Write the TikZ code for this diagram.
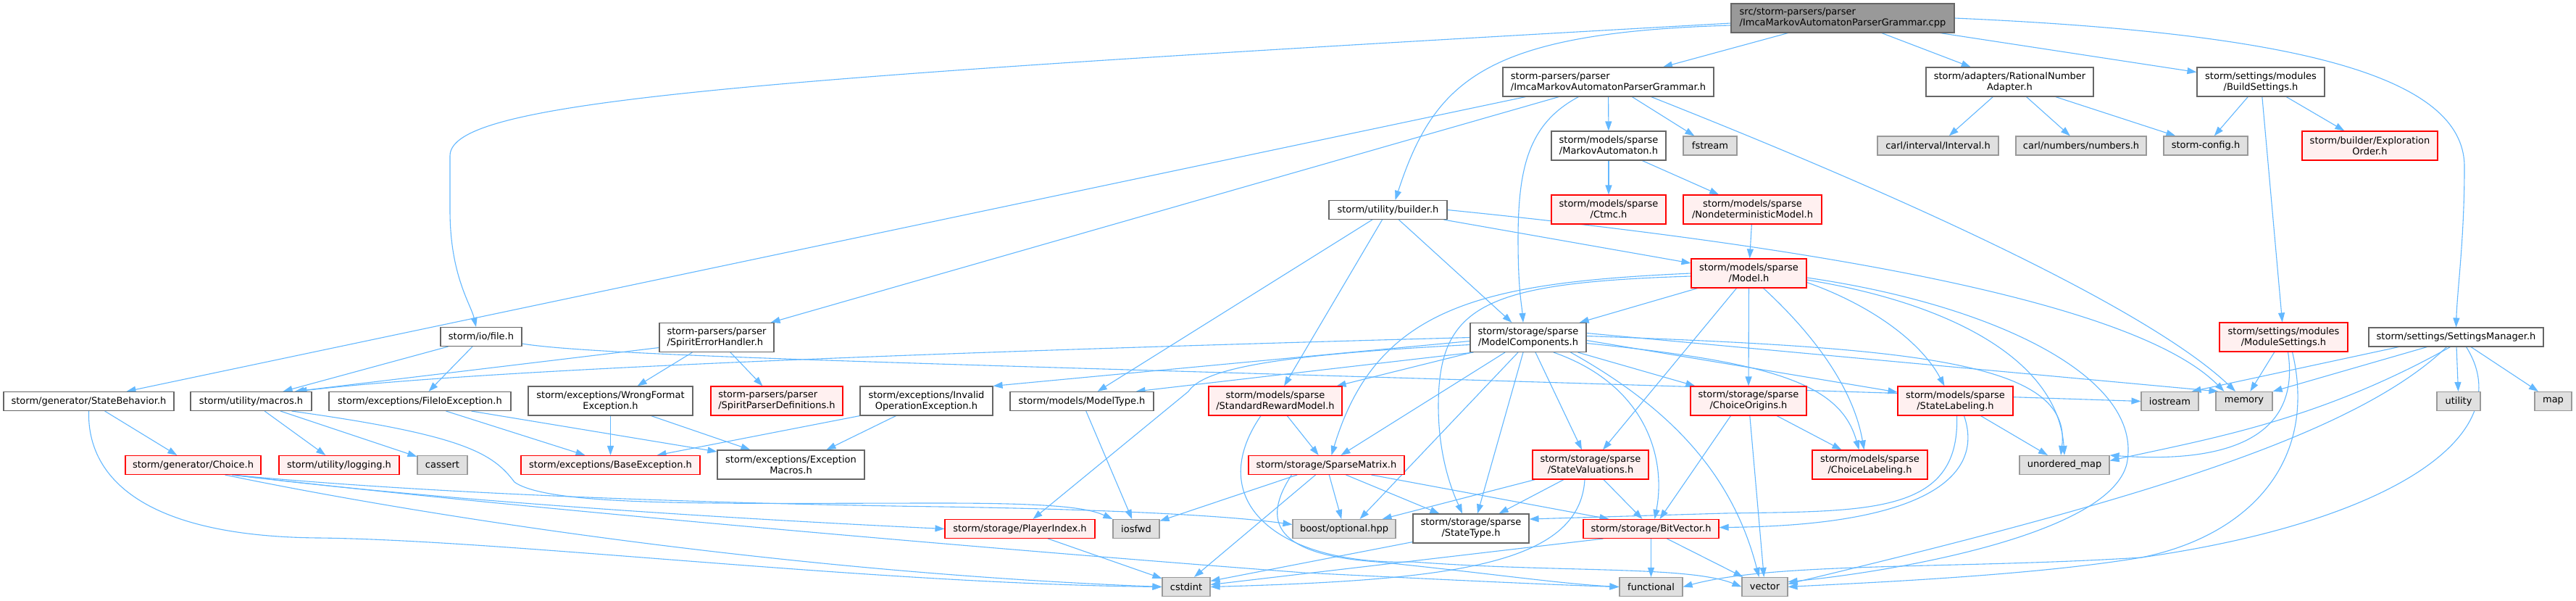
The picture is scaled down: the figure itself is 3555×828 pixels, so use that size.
\documentclass[tikz,border=0pt]{standalone}
\usepackage{fontspec}
\setmainfont{DejaVu Sans}
\usetikzlibrary{arrows.meta,calc}
\definecolor{edgeblue}{HTML}{63B8FF}
\definecolor{gfour}{HTML}{666666}
\definecolor{gsix}{HTML}{999999}
\definecolor{redfill}{HTML}{FFF0F0}
\definecolor{grayfill}{HTML}{E0E0E0}
\newcommand{\nodefont}{\fontsize{13}{15}\selectfont}
\pgfdeclarelayer{bglayer}
\pgfdeclarelayer{edgelayer}
\pgfsetlayers{bglayer,edgelayer,main}
\tikzset{
  nd/.style={draw=gfour, fill=white, line width=1.1pt, inner xsep=4pt, inner ysep=0pt, font=\nodefont, align=center},
  ndr/.style={nd, draw=red, fill=redfill},
  ndg/.style={nd, draw=gsix, fill=grayfill},
  ndroot/.style={nd, draw=gfour, fill=gsix},
  one/.style={minimum height=26pt},
  two/.style={minimum height=40pt},
  e/.style={draw=edgeblue, line width=1.1pt, -{Triangle[length=13pt,width=9pt]}},
}
\begin{document}
\begin{tikzpicture}[x=1pt,y=-1pt]
\begin{pgfonlayer}{bglayer}
\fill[white] (0,0) rectangle (3555,828);
\end{pgfonlayer}
\useasboundingbox (0,0) rectangle (3555,828);

% ---------- nodes ----------
\node[ndroot,two,align=left,minimum width=308pt] (R) at (2543,25) {src/storm-parsers/parser\\/ImcaMarkovAutomatonParserGrammar.cpp};
\node[nd,two,align=left,minimum width=291pt] (G) at (2219.5,113) {storm-parsers/parser\\/ImcaMarkovAutomatonParserGrammar.h};
\node[nd,two,minimum width=231pt] (RA) at (2773.5,113) {storm/adapters/RationalNumber\\Adapter.h};
\node[nd,two,minimum width=176pt] (BS) at (3120,113) {storm/settings/modules\\/BuildSettings.h};
\node[nd,two,minimum width=158pt] (MA) at (2220,201) {storm/models/sparse\\/MarkovAutomaton.h};
\node[ndg,one,minimum width=74pt] (FST) at (2360,201) {fstream};
\node[ndg,one,minimum width=167pt] (CI) at (2674.5,201) {carl/interval/Interval.h};
\node[ndg,one,minimum width=180pt] (CN) at (2872,201) {carl/numbers/numbers.h};
\node[ndg,one,minimum width=116pt] (SC) at (3044,201) {storm-config.h};
\node[ndr,two,minimum width=187pt] (EO) at (3270.5,201) {storm/builder/Exploration\\Order.h};
\node[ndr,two,minimum width=158pt] (CTMC) at (2220,289) {storm/models/sparse\\/Ctmc.h};
\node[ndr,two,minimum width=191pt] (ND) at (2418.5,289) {storm/models/sparse\\/NondeterministicModel.h};
\node[nd,one,minimum width=163pt] (B) at (1915.5,289.5) {storm/utility/builder.h};
\node[ndr,two,minimum width=159pt] (M) at (2413.5,377) {storm/models/sparse\\/Model.h};
\node[nd,one,minimum width=235pt] (SB) at (122.5,553.5) {storm/generator/StateBehavior.h};
\node[nd,one,minimum width=167pt] (MAC) at (346.5,553.5) {storm/utility/macros.h};
\node[nd,one,minimum width=251pt] (FIE) at (579.5,553.5) {storm/exceptions/FileIoException.h};
\node[ndr,one,minimum width=187pt] (CH) at (266.5,641.5) {storm/generator/Choice.h};
\node[ndr,one,minimum width=166pt] (LOG) at (468,641.5) {storm/utility/logging.h};
\node[ndg,one,minimum width=69pt] (CAS) at (610.5,641.5) {cassert};
\node[nd,one,minimum width=112pt] (IF) at (664,464.5) {storm/io/file.h};
\node[nd,two,align=left,minimum width=158pt] (SEH) at (989,465.5) {storm-parsers/parser\\/SpiritErrorHandler.h};
\node[nd,two,minimum width=227pt] (WFE) at (842.5,553) {storm/exceptions/WrongFormat\\Exception.h};
\node[ndr,two,align=left,minimum width=182pt] (SPD) at (1072,553) {storm-parsers/parser\\/SpiritParserDefinitions.h};
\node[ndr,one,minimum width=247pt] (BE) at (842.5,641.5) {storm/exceptions/BaseException.h};
\node[nd,two,minimum width=203pt] (EM) at (1091.5,641) {storm/exceptions/Exception\\Macros.h};
\node[nd,two,minimum width=183pt] (IOE) at (1278.5,553) {storm/exceptions/Invalid\\OperationException.h};
\node[nd,one,minimum width=198pt] (MT) at (1493,553.5) {storm/models/ModelType.h};
\node[ndr,two,minimum width=184pt] (SRM) at (1760,553) {storm/models/sparse\\/StandardRewardModel.h};
\node[ndr,one,minimum width=215pt] (SPM) at (1830.5,641.5) {storm/storage/SparseMatrix.h};
\node[ndr,one,minimum width=207pt] (PI) at (1407.5,729.5) {storm/storage/PlayerIndex.h};
\node[ndg,one,minimum width=64pt] (IOSFWD) at (1568,729.5) {iosfwd};
\node[ndg,one,minimum width=142pt] (BOOST) at (1855,729.5) {boost/optional.hpp};
\node[ndg,one,minimum width=66pt] (CSTDINT) at (1637,809.5) {cstdint};
\node[nd,two,minimum width=160pt] (MC) at (2109,465.5) {storm/storage/sparse\\/ModelComponents.h};
\node[ndr,two,minimum width=160pt] (SV) at (2195,641) {storm/storage/sparse\\/StateValuations.h};
\node[nd,two,minimum width=160pt] (ST) at (2030,729) {storm/storage/sparse\\/StateType.h};
\node[ndr,one,minimum width=187pt] (BV) at (2278.5,729.5) {storm/storage/BitVector.h};
\node[ndg,one,minimum width=87pt] (FUN) at (2278.5,809.5) {functional};
\node[ndr,two,minimum width=160pt] (CO) at (2413,553) {storm/storage/sparse\\/ChoiceOrigins.h};
\node[ndr,two,minimum width=159pt] (CL) at (2580.5,641) {storm/models/sparse\\/ChoiceLabeling.h};
\node[ndr,two,minimum width=159pt] (SL) at (2698.5,553) {storm/models/sparse\\/StateLabeling.h};
\node[ndg,one,minimum width=124pt] (UM) at (2849,641.5) {unordered\_map};
\node[ndg,one,minimum width=79pt] (IOS) at (2994.5,553.5) {iostream};
\node[ndg,one,minimum width=63pt] (VEC) at (2435.5,809.5) {vector};
\node[ndg,one,minimum width=78pt] (MEM) at (3097,553.5) {memory};
\node[ndr,two,minimum width=177pt] (MS) at (3151.5,465) {storm/settings/modules\\/ModuleSettings.h};
\node[nd,one,minimum width=241pt] (SM) at (3389.5,465) {storm/settings/SettingsManager.h};
\node[ndg,one,minimum width=60pt] (UT) at (3393,553.5) {utility};
\node[ndg,one,minimum width=51pt] (MAP) at (3523.5,553.5) {map};

% ---------- edges ----------
\begin{pgfonlayer}{edgelayer}
% root
\draw[e] ($(R.west)+(0,7)$) .. controls (1000,110) and (621,140) .. (621,215) -- (621,290) .. controls (621,380) and (650,420) .. ($(IF.north)+(-7,0)$);
\draw[e] ($(R.west)+(0,10)$) .. controls (2050,45) and (1980,110) .. ($(B.north)+(10,0)$);
\draw[e] (R) -- (G);
\draw[e] (R) -- (RA);
\draw[e] (R) -- (BS);
\draw[e] (R.east) .. controls (3150,45) and (3401,100) .. (3401,230) .. controls (3401,330) and (3391,400) .. (SM.north);
% grammar
\draw[e] ($(G.south west)+(32,0)$) -- ($(SB.north)+(52,0)$);
\draw[e] ($(G.south west)+(78,0)$) -- ($(SEH.north east)+(-5,0)$);
\draw[e] ($(G.south)+(-41,0)$) .. controls (2110,170) and (2095,230) .. (2095,330) .. controls (2095,400) and (2100,420) .. ($(MC.north)+(-7,0)$);
\draw[e] (G) -- (MA);
\draw[e] (G) -- (FST);
\draw[e] ($(G.south east)+(-87,0)$) .. controls (2700,300) and (2980,440) .. ($(MEM.north)+(-12,0)$);
% markov automaton
\draw[e] (MA) -- (CTMC);
\draw[e] (MA) -- (ND);
\draw[e] (ND) -- (M);
% rational number adapter
\draw[e] (RA) -- (CI);
\draw[e] (RA) -- (CN);
\draw[e] (RA) -- (SC);
% build settings
\draw[e] (BS) -- (SC);
\draw[e] (BS) -- (EO);
\draw[e] (BS) -- (MS);
% module settings
\draw[e] (MS) -- (MEM);
\draw[e] ($(MS.south)+(6,0)$) .. controls (3175,600) and (3080,640) .. (UM.north east);
\draw[e] ($(MS.south)+(12,0)$) .. controls (3200,640) and (3100,740) .. (2955,769) .. controls (2800,795) and (2550,805) .. (VEC.east);
% settings manager
\draw[e] ($(SM.south west)+(42,0)$) -- ($(IOS.north east)+(-10,0)$);
\draw[e] ($(SM.south)+(-40,0)$) -- (MEM.north east);
\draw[e] (SM) -- (UT);
\draw[e] (SM) -- (MAP);
\draw[e] ($(SM.south)+(-8,0)$) .. controls (3200,580) and (3050,605) .. ($(UM.east)+(0,-6)$);
\draw[e] ($(SM.south)+(-13,0)$) .. controls (3250,600) and (2950,690) .. ($(VEC.east)+(0,-4)$);
\draw[e] ($(SM.south)+(14,0)$) .. controls (3480,600) and (3300,720) .. (2955,769) .. controls (2700,785) and (2450,775) .. (FUN.east);
% builder
\draw[e] (B.east) .. controls (2600,350) and (2960,430) .. ($(MEM.north west)+(12,0)$);
\draw[e] (B) -- (M);
\draw[e] (B) -- (MT);
\draw[e] (B) -- (SRM);
\draw[e] (B) -- (MC);
% model
\draw[e] (M) -- (MC);
\draw[e] (M.west) .. controls (2050,390) and (1900,420) .. ($(SPM.north)+(7,0)$);
\draw[e] ($(M.west)+(0,4)$) .. controls (2050,390) and (1985,420) .. (1985,560) .. controls (1985,640) and (2010,690) .. ($(ST.north)+(-12,0)$);
\draw[e] (M) -- (SV);
\draw[e] (M) -- (CO);
\draw[e] ($(M.south)+(20,0)$) .. controls (2480,440) and (2555,520) .. ($(CL.north)+(-8,0)$);
\draw[e] ($(M.south east)+(0,-8)$) .. controls (2580,420) and (2650,470) .. ($(SL.north)+(-15,0)$);
\draw[e] ($(M.east)+(0,9)$) .. controls (2700,420) and (2840,500) .. (UM.north);
\draw[e] ($(M.east)+(0,6)$) .. controls (2750,420) and (2960,520) .. (2935,640) .. controls (2910,740) and (2600,790) .. ($(VEC.east)+(0,-7)$);
% model components
\draw[e] (MC.west) .. controls (1500,480) and (700,505) .. ($(MAC.north east)+(-20,0)$);
\draw[e] ($(MC.west)+(0,5)$) -- (IOE.north east);
\draw[e] ($(MC.south west)+(5,0)$) -- ($(MT.north east)+(-25,0)$);
\draw[e] ($(MC.south west)+(3,0)$) -- ($(SRM.north east)+(-8,0)$);
\draw[e] ($(MC.south)+(-32,0)$) -- ($(SPM.north)+(20,0)$);
\draw[e] ($(MC.west)+(0,10)$) .. controls (1750,490) and (1660,510) .. (1640,540) -- ($(PI.north)+(18,0)$);
\draw[e] ($(MC.south)+(-14,0)$) -- ($(BOOST.north east)+(-50,0)$);
\draw[e] ($(MC.south)+(-7,0)$) -- ($(ST.north)+(9,0)$);
\draw[e] ($(MC.south)+(10,0)$) -- ($(SV.north)+(-12,0)$);
\draw[e] ($(MC.south)+(35,0)$) .. controls (2270,530) and (2300,630) .. ($(BV.north)+(5,0)$);
\draw[e] ($(MC.south east)+(-12,0)$) -- ($(CO.north west)+(7,0)$);
\draw[e] ($(MC.east)+(0,8)$) .. controls (2450,500) and (2540,530) .. ($(CL.north)+(-15,0)$);
\draw[e] ($(MC.east)+(0,4)$) -- ($(SL.west)+(0,-12)$);
\draw[e] ($(MC.east)+(0,-2)$) .. controls (2650,480) and (2860,500) .. ($(UM.north)+(-5,0)$);
\draw[e] ($(MC.east)+(0,-6)$) -- ($(MEM.north west)+(4,0)$);
\draw[e] ($(MC.south east)+(-22,0)$) .. controls (2300,560) and (2390,650) .. ($(VEC.north)+(-8,0)$);
% io/file
\draw[e] ($(IF.south east)+(0,-4)$) .. controls (850,495) and (1500,505) .. (IOS.west);
\draw[e] ($(IF.south west)+(11,0)$) -- ($(MAC.north east)+(-40,0)$);
\draw[e] ($(IF.south)+(-12,0)$) -- ($(FIE.north east)+(-114,0)$);
% standard reward model
\draw[e] (SRM) -- (SPM);
\draw[e] ($(SRM.south)+(-20,0)$) .. controls (1660,690) and (1760,780) .. (1950,775) .. controls (2150,790) and (2330,780) .. (VEC.west);
% sparse matrix
\draw[e] (SPM) -- (IOSFWD);
\draw[e] ($(SPM.south)+(-15,0)$) -- ($(CSTDINT.north)+(11,0)$);
\draw[e] (SPM) -- (BOOST);
\draw[e] ($(SPM.south)+(27,0)$) -- ($(ST.north west)+(37,0)$);
\draw[e] ($(SPM.south east)+(-46,0)$) -- ($(BV.north west)+(36,0)$);
\draw[e] ($(SPM.south west)+(60,0)$) .. controls (1740,720) and (1760,765) .. (1900,775) .. controls (2050,790) and (2150,805) .. (FUN.west);
% state valuations
\draw[e] ($(SV.south west)+(4,0)$) -- ($(BOOST.north east)+(-19,0)$);
\draw[e] ($(SV.south)+(-37,0)$) -- ($(ST.north east)+(-42,0)$);
\draw[e] ($(SV.south)+(18,0)$) -- ($(BV.north)+(-12,0)$);
\draw[e] ($(SV.south)+(-8,0)$) .. controls (2180,780) and (2000,800) .. (CSTDINT.east);
% state type
\draw[e] ($(ST.south west)+(0,-2)$) -- ($(CSTDINT.east)+(0,-8)$);
% bit vector
\draw[e] (BV) -- (FUN);
\draw[e] ($(BV.south)+(22,0)$) -- ($(VEC.north west)+(2,0)$);
\draw[e] ($(BV.south west)+(28,0)$) -- ($(CSTDINT.east)+(0,-3)$);
% choice origins
\draw[e] (CO) -- (CL);
\draw[e] ($(CO.south west)+(56,0)$) -- ($(BV.north)+(12,0)$);
\draw[e] (CO) -- (VEC);
% state labeling
\draw[e] (SL) -- (UM);
\draw[e] ($(SL.south)+(12,0)$) .. controls (2740,660) and (2650,725) .. ($(BV.east)+(0,-2)$);
\draw[e] ($(SL.south)+(2,0)$) .. controls (2705,710) and (2580,705) .. (2380,708) -- ($(ST.east)+(0,-13)$);
% small ones
\draw[e] (PI) -- (CSTDINT);
\draw[e] (MT) -- (IOSFWD);
\draw[e] (IOE.south west) -- ($(BE.north east)+(-60,0)$);
\draw[e] ($(IOE.south)+(-42,0)$) -- ($(EM.north)+(49,0)$);
\draw[e] (WFE) -- (BE);
\draw[e] ($(WFE.south)+(56,0)$) -- ($(EM.north west)+(46,0)$);
\draw[e] ($(SEH.south west)+(46,0)$) -- ($(WFE.north east)+(-77,0)$);
\draw[e] ($(SEH.south)+(19,0)$) -- ($(SPD.north west)+(72,0)$);
\draw[e] ($(SEH.west)+(0,14)$) -- ($(MAC.north east)+(-24,0)$);
\draw[e] ($(FIE.south east)+(-90,0)$) -- ($(BE.north)+(-35,0)$);
\draw[e] ($(FIE.south east)+(-55,0)$) -- ($(EM.west)+(0,-18)$);
% macros
\draw[e] (MAC) -- (LOG);
\draw[e] (MAC) -- (CAS);
\draw[e] ($(MAC.south east)+(-28,0)$) .. controls (640,600) and (680,625) .. (710,665) .. controls (760,700) and (1000,694) .. (1300,694) .. controls (1450,694) and (1500,700) .. (IOSFWD.north west);
% state behavior
\draw[e] (SB) -- (CH);
\draw[e] (SB.south) .. controls (120,660) and (200,740) .. (440,742) .. controls (700,745) and (1200,805) .. (CSTDINT.west);
% choice
\draw[e] ($(CH.south east)+(-40,0)$) .. controls (600,682) and (1000,695) .. (1300,699) .. controls (1550,703) and (1700,712) .. ($(BOOST.west)+(0,-6)$);
\draw[e] ($(CH.south east)+(-40,0)$) .. controls (600,690) and (1000,715) .. (PI.west);
\draw[e] ($(CH.south east)+(-40,0)$) .. controls (700,700) and (1400,760) .. (1800,790) .. controls (2000,800) and (2150,807) .. (FUN.west);
\draw[e] ($(CH.south east)+(-50,0)$) .. controls (600,715) and (1100,790) .. (CSTDINT.west);
\end{pgfonlayer}
\end{tikzpicture}
\end{document}
